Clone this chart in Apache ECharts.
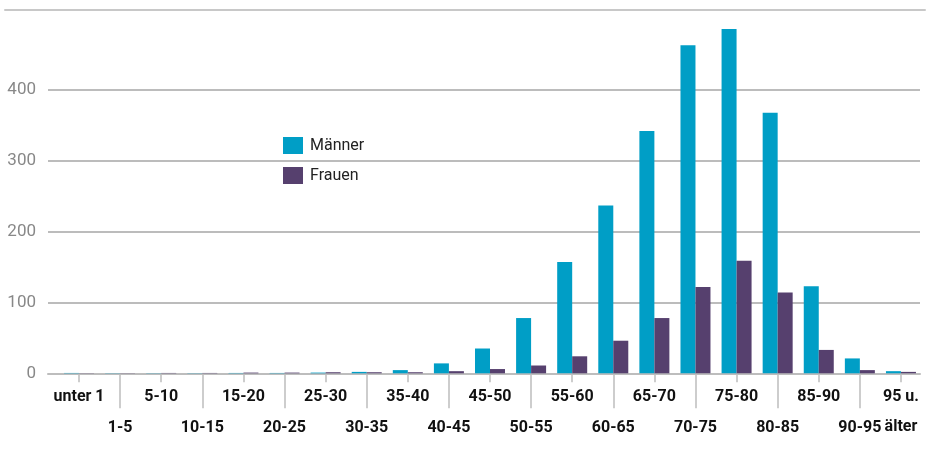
<!DOCTYPE html>
<html>
<head>
<meta charset="utf-8">
<script src="https://cdn.jsdelivr.net/npm/echarts@6/dist/echarts.min.js"></script>
<style>html,body{margin:0;padding:0;background:#fff}#c{width:928px;height:457px}</style>
</head>
<body>
<div id="c"></div>
<script>
var categories = ['unter 1','1-5','5-10','10-15','15-20','20-25','25-30','30-35','35-40','40-45','45-50','50-55','55-60','60-65','65-70','70-75','75-80','80-85','85-90','90-95','95 u.\nälter'];
var maenner = [0.5,0.3,0.3,0.3,0.5,0.5,1,2,4.5,14,35,78,157,237,342,463,486,368,123,21,3];
var frauen  = [0.3,0.3,0.5,0.5,1,1,1.5,1.5,1.5,3,6,11,24,46,78,122,159,114,33,4.5,2];
var yTicks = [0,100,200,300,400];
var seriesNames = ['Männer','Frauen'];

var FONT = 'Roboto, "DejaVu Sans", sans-serif';
var chart = echarts.init(document.getElementById('c'), null, {renderer:'canvas'});
chart.setOption({
  animation:false,
  backgroundColor:'#fff',
  textStyle:{fontFamily:FONT},
  legend:{
    data:seriesNames, orient:'vertical', left:278, top:132,
    itemWidth:20, itemHeight:17, itemGap:13,
    textStyle:{fontSize:16, color:'#222', fontFamily:FONT, padding:[0,0,0,2]},
    icon:'rect'
  },
  grid:[
    {left:48, right:8, top:90, bottom:83.7},
    {left:58.5, right:6.5, top:8.5, bottom:83.7},
    {left:5, right:3, top:8.5, height:1}
  ],
  xAxis:[
    {gridIndex:0, type:'category', data:categories, axisLine:{show:true, lineStyle:{color:'#bdbdbd', width:2}}, axisTick:{show:false}, axisLabel:{show:false}, splitLine:{show:false}},
    {gridIndex:1, type:'category', data:categories, position:'bottom', offset:0,
      axisLine:{show:false},
      axisTick:{show:true, alignWithLabel:true, length:9, lineStyle:{color:'#bdbdbd', width:1.5}, interval:function(i){return i%2===0;}},
      axisLabel:{interval:function(i){return i%2===0;}, fontSize:16, fontWeight:'bold', color:'#111', lineHeight:30, margin:9, fontFamily:FONT}},
    {gridIndex:1, type:'category', data:categories, position:'bottom', offset:0,
      axisLine:{show:false},
      axisTick:{show:true, alignWithLabel:true, length:35, lineStyle:{color:'#bdbdbd', width:1.5}, interval:function(i){return i%2===1;}},
      axisLabel:{interval:function(i){return i%2===1;}, fontSize:16, fontWeight:'bold', color:'#111', lineHeight:18, margin:46, fontFamily:FONT}},
    {gridIndex:2, type:'value', position:'top', min:0, max:1, axisLine:{show:true, lineStyle:{color:'#c8c8c8', width:2}}, axisTick:{show:false}, axisLabel:{show:false}, splitLine:{show:false}}
  ],
  yAxis:[
    {gridIndex:0, type:'value', min:yTicks[0], max:yTicks[yTicks.length-1], interval:100,
      axisLine:{show:false}, axisTick:{show:false},
      axisLabel:{fontSize:17, color:'#888', margin:12, fontFamily:FONT},
      splitLine:{show:true, lineStyle:{color:'#a6a6a6', width:1.5}}},
    {gridIndex:1, type:'value', min:0, max:515, show:false, splitLine:{show:false}},
    {gridIndex:2, type:'value', min:0, max:1, show:false, splitLine:{show:false}}
  ],
  series:[
    {name:seriesNames[0], type:'bar', xAxisIndex:1, yAxisIndex:1, data:maenner, barWidth:15, barGap:'0%', itemStyle:{color:'#009ec6'}},
    {name:seriesNames[1], type:'bar', xAxisIndex:1, yAxisIndex:1, data:frauen, barWidth:15, barGap:'0%', itemStyle:{color:'#56406e'}}
  ]
});
</script>
</body>
</html>
